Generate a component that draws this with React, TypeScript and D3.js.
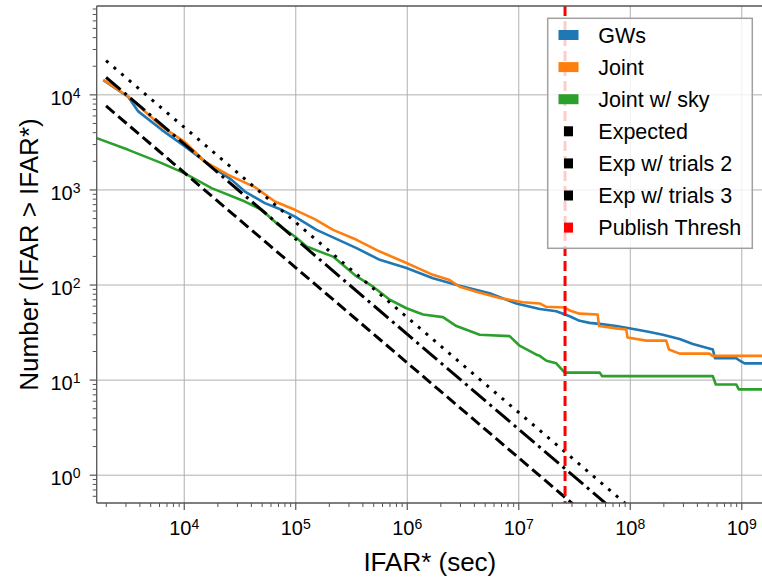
import React from 'react';
import * as d3 from 'd3';

const W = 762;
const H = 581;
const PLOT = { left: 96.7, right: 763, top: 6, bottom: 503 };
const FONT = '"Liberation Sans", Arial, Helvetica, sans-serif';

const xDomain = [1640, 1.55e9];
const yDomain = [0.51, 86000];

const xMajorTicks = [1e4, 1e5, 1e6, 1e7, 1e8, 1e9];
const xTickExps = ['4', '5', '6', '7', '8', '9'];
const yMajorTicks = [1, 10, 100, 1000, 10000];
const yTickExps = ['0', '1', '2', '3', '4'];

// GWs
const gwIfar = [1880, 3150, 3870, 6275, 1e4, 17600, 26600, 35000, 52800, 74600, 98200, 153600, 351000, 567000, 984000, 1.7e6, 2.95e6, 5.48e6, 9.51e6, 1.54e7, 2.17e7, 2.86e7, 3.51e7, 4.32e7, 5.31e7, 7.49e7, 1.13e8, 1.49e8, 1.96e8, 2.77e8, 3.64e8, 5.5e8, 5.75e8, 8.9e8, 9.6e8, 1.06e9, 1.6e9];
const gwCount = [14300, 9500, 6700, 4285, 2909, 1762, 1276, 962, 727, 618, 525, 380, 244, 184, 151, 118, 98, 82, 64, 56, 53, 47, 42, 40, 39, 37, 34, 32, 30, 27, 24, 21, 17, 17, 16, 15, 15];

// Joint
const jointIfar = [1880, 3148, 6275, 1e4, 15330, 24800, 43000, 65000, 98200, 148000, 216000, 351000, 567000, 917000, 1.7e6, 2.4e6, 2.95e6, 4.17e6, 6.74e6, 1.09e7, 1.54e7, 1.77e7, 2.58e7, 2.86e7, 3.51e7, 5.1e7, 5.25e7, 7.49e7, 9.2e7, 9.45e7, 1.39e8, 2.1e8, 2.22e8, 2.77e8, 5.13e8, 5.45e8, 1.6e9];
const jointCount = [14380, 9600, 4643, 3228, 1989, 1441, 1070, 755, 618, 493, 380, 299, 225, 177, 128, 113, 96, 85, 73, 66, 64, 59, 58, 54, 50, 49, 37, 35, 34, 28, 26, 26, 21, 19, 19, 18, 18];

// Joint w/ sky
const skyIfar = [1641, 3148, 6275, 1e4, 17600, 35000, 49400, 69500, 98200, 125000, 216000, 351000, 494000, 697000, 984000, 1.385e6, 2.09e6, 2.76e6, 4.46e6, 8.28e6, 1.017e7, 1.44e7, 1.54e7, 1.77e7, 2.17e7, 2.58e7, 5.31e7, 5.6e7, 5.5e8, 5.85e8, 8.91e8, 9.4e8, 1.6e9];
const skyCount = [3505, 2641, 1913, 1502, 1044, 755, 618, 430, 324, 254, 199, 123, 96, 70, 57, 49, 46, 37, 30, 29, 23, 18.5, 18, 16, 15, 12, 12, 11, 11, 9, 9, 8, 8];

// Expected lines (two end points each)
const expectedIfar = [1990, 1e9];
const expectedCount = [7640, 0.0152];
const trials2Count = [15280, 0.0304];
const trials3Count = [22900, 0.0456];

const thresholdIfar = 2.6e7;

const legendLabels = ['GWs', 'Joint', 'Joint w/ sky', 'Expected', 'Exp w/ trials 2', 'Exp w/ trials 3', 'Publish Thresh'];
const legendColors = ['#1f77b4', '#ff7f0e', '#2ca02c', '#000000', '#000000', '#000000', '#ff0000'];
const legendWide = [true, true, true, false, false, false, false];

export default function App() {
  const x = d3.scaleLog().domain(xDomain).range([PLOT.left, PLOT.right]);
  const y = d3.scaleLog().domain(yDomain).range([PLOT.bottom, PLOT.top]);
  const line = d3
    .line<[number, number]>()
    .x((d) => x(d[0]))
    .y((d) => y(d[1]));
  const zip = (a: number[], b: number[]) => a.map((v, i) => [v, b[i]] as [number, number]);

  const xMinor = x.ticks(60).filter((t) => t >= xDomain[0] && t <= xDomain[1] && !xMajorTicks.includes(t));
  const yMinor = y.ticks(60).filter((t) => t >= yDomain[0] && t <= yDomain[1] && !yMajorTicks.includes(t));

  const spine = '#555555';
  const grid = '#b0b0b0';

  const series = [
    { d: zip(gwIfar, gwCount), c: legendColors[0] },
    { d: zip(jointIfar, jointCount), c: legendColors[1] },
    { d: zip(skyIfar, skyCount), c: legendColors[2] },
  ];
  const expected = [
    { d: zip(expectedIfar, expectedCount), dash: '11 5' },
    { d: zip(expectedIfar, trials2Count), dash: '19 5 3 5' },
    { d: zip(expectedIfar, trials3Count), dash: '3 7' },
  ];

  const legX = 547.7;
  const legY = 18.3;
  const legW = 204.6;
  const legH = 230;
  const row0 = 35;
  const rowStep = 32.1;

  return (
    <svg
      width={W}
      height={H}
      style={{ position: 'absolute', left: 0, top: 0, background: '#fff' }}
      fontFamily={FONT}
    >
      <defs>
        <clipPath id="plotClip">
          <rect x={PLOT.left} y={PLOT.top} width={PLOT.right - PLOT.left} height={PLOT.bottom - PLOT.top} />
        </clipPath>
      </defs>
      <rect x={0} y={0} width={W} height={H} fill="#fff" />

      {/* grid */}
      {xMajorTicks.map((t) => (
        <line key={'gx' + t} x1={x(t)} x2={x(t)} y1={PLOT.top} y2={PLOT.bottom} stroke={grid} strokeWidth={1} />
      ))}
      {yMajorTicks.map((t) => (
        <line key={'gy' + t} x1={PLOT.left} x2={PLOT.right} y1={y(t)} y2={y(t)} stroke={grid} strokeWidth={1} />
      ))}

      <g clipPath="url(#plotClip)">
        {series.map((s, i) => (
          <path key={'s' + i} d={line(s.d) || ''} fill="none" stroke={s.c} strokeWidth={2.6} strokeLinejoin="round" />
        ))}
        {expected.map((s, i) => (
          <path key={'e' + i} d={line(s.d) || ''} fill="none" stroke="#000" strokeWidth={3} strokeDasharray={s.dash} />
        ))}
        <line
          x1={x(thresholdIfar)}
          x2={x(thresholdIfar)}
          y1={PLOT.top}
          y2={PLOT.bottom}
          stroke="#ff0000"
          strokeWidth={3}
          strokeDasharray="10 5"
        />
      </g>

      {/* spines */}
      <line x1={PLOT.left} x2={PLOT.right} y1={PLOT.top} y2={PLOT.top} stroke={spine} strokeWidth={1.3} />
      <line x1={PLOT.left} x2={PLOT.right} y1={PLOT.bottom} y2={PLOT.bottom} stroke={spine} strokeWidth={1.3} />
      <line x1={PLOT.left} x2={PLOT.left} y1={PLOT.top} y2={PLOT.bottom} stroke={spine} strokeWidth={1.3} />

      {/* x ticks */}
      {xMinor.map((t) => (
        <line key={'xm' + t} x1={x(t)} x2={x(t)} y1={PLOT.bottom} y2={PLOT.bottom + 4} stroke={spine} strokeWidth={1} />
      ))}
      {xMajorTicks.map((t, i) => (
        <g key={'xt' + t}>
          <line x1={x(t)} x2={x(t)} y1={PLOT.bottom} y2={PLOT.bottom + 7} stroke={spine} strokeWidth={1.2} />
          <text x={x(t)} y={535} textAnchor="middle" fontSize={20} fill="#000">
            <tspan>10</tspan>
            <tspan dy={-6} fontSize={14}>
              {xTickExps[i]}
            </tspan>
          </text>
        </g>
      ))}

      {/* y ticks */}
      {yMinor.map((t) => (
        <line key={'ym' + t} x1={PLOT.left - 4} x2={PLOT.left} y1={y(t)} y2={y(t)} stroke={spine} strokeWidth={1} />
      ))}
      {yMajorTicks.map((t, i) => (
        <g key={'yt' + t}>
          <line x1={PLOT.left - 7} x2={PLOT.left} y1={y(t)} y2={y(t)} stroke={spine} strokeWidth={1.2} />
          <text x={80.5} y={y(t) + 10} textAnchor="end" fontSize={20} fill="#000">
            <tspan>10</tspan>
            <tspan dy={-6.7} fontSize={14}>
              {yTickExps[i]}
            </tspan>
          </text>
        </g>
      ))}

      {/* axis labels */}
      <text x={(PLOT.left + PLOT.right) / 2} y={571} textAnchor="middle" fontSize={26} fill="#000">
        IFAR* (sec)
      </text>
      <text
        transform={`translate(37.5, ${(PLOT.top + PLOT.bottom) / 2}) rotate(-90)`}
        textAnchor="middle"
        fontSize={26}
        fill="#000"
      >
        Number (IFAR &gt; IFAR*)
      </text>

      {/* legend */}
      <rect x={legX} y={legY} width={legW} height={legH} fill="#fff" fillOpacity={0.8} stroke="#a0a0a0" strokeWidth={1.5} />
      {legendLabels.map((lab, i) => {
        const cy = row0 + i * rowStep;
        const wide = legendWide[i];
        const pw = wide ? 20 : 9;
        const ph = 10;
        return (
          <g key={'lg' + i}>
            <rect x={568.5 - pw / 2} y={cy - ph / 2} width={pw} height={ph} fill={legendColors[i]} />
            <text x={598.3} y={cy + 7.5} fontSize={21.5} fill="#000">
              {lab}
            </text>
          </g>
        );
      })}
    </svg>
  );
}
